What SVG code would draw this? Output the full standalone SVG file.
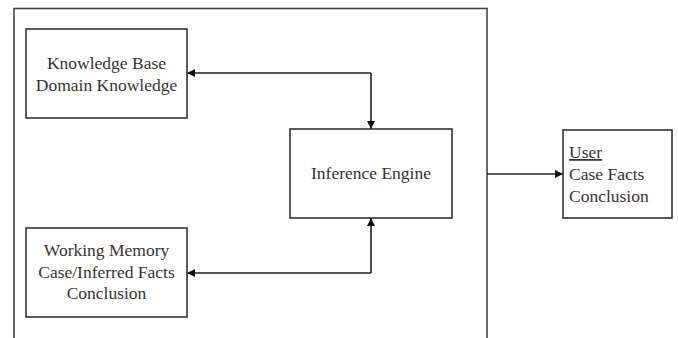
<svg xmlns="http://www.w3.org/2000/svg" width="678" height="338" viewBox="0 0 678 338">
<style>
.box{fill:#fff;stroke:#333;stroke-width:1.6}
.frame{fill:none;stroke:#444;stroke-width:1.6}
.lbl{font-family:"Liberation Serif","Times New Roman",serif;font-size:17.5px;fill:#333}
.c{text-anchor:middle}
.conn{fill:none;stroke:#222;stroke-width:1.6}
</style>
<defs>
<marker id="ah" viewBox="0 0 10 10" refX="10" refY="5" markerWidth="9" markerHeight="8" markerUnits="userSpaceOnUse" orient="auto">
<path d="M0,0 L10,5 L0,10 z" fill="#111"/>
</marker>
</defs>
<rect class="frame" x="14" y="8.5" width="473" height="340"/>
<g id="connectors">
<path class="conn" d="M371,73 L371,129" marker-end="url(#ah)"/>
<path class="conn" d="M371,73 L187,73" marker-end="url(#ah)"/>
<path class="conn" d="M371,273 L371,218" marker-end="url(#ah)"/>
<path class="conn" d="M371,273 L187,273" marker-end="url(#ah)"/>
<path class="conn" d="M487,174 L563,174" marker-end="url(#ah)"/>
</g>
<g id="kb">
<rect class="box" x="26" y="29" width="161" height="89"/>
<text class="lbl c" x="106.5" y="69">Knowledge Base</text>
<text class="lbl c" x="106.5" y="91">Domain Knowledge</text>
</g>
<g id="ie">
<rect class="box" x="290" y="129" width="162" height="89"/>
<text class="lbl c" x="371" y="179">Inference Engine</text>
</g>
<g id="wm">
<rect class="box" x="26" y="228" width="161" height="89"/>
<text class="lbl c" x="106.5" y="256">Working Memory</text>
<text class="lbl c" x="106.5" y="278">Case/Inferred Facts</text>
<text class="lbl c" x="106.5" y="299">Conclusion</text>
</g>
<g id="user">
<rect class="box" x="563" y="130" width="109" height="88"/>
<text class="lbl" x="569" y="158" text-decoration="underline">User</text>
<text class="lbl" x="569" y="180">Case Facts</text>
<text class="lbl" x="569" y="202">Conclusion</text>
</g>
</svg>
